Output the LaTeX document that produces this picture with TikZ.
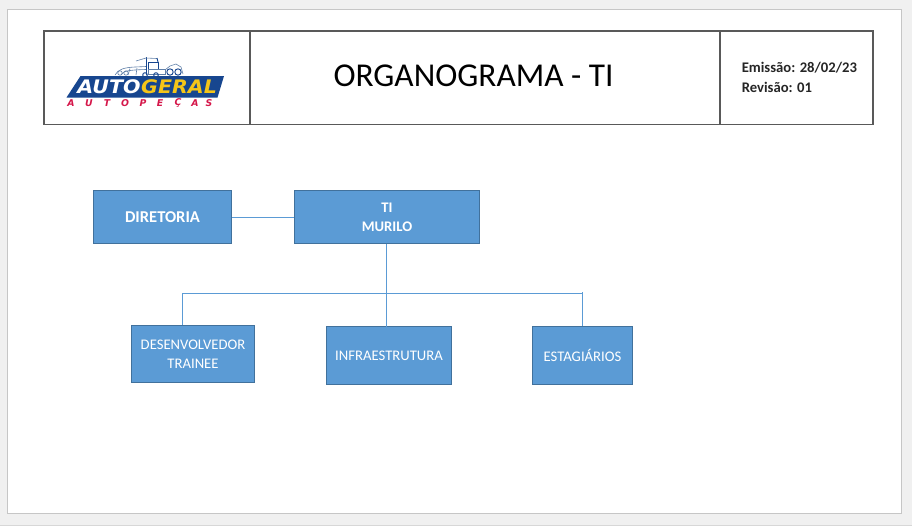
\documentclass[tikz,border=0pt]{standalone}
\usepackage{fontspec}
\setmainfont{Carlito}
\newfontfamily\logofont{DejaVu Sans}
\usetikzlibrary{calc}
\definecolor{slidebg}{HTML}{F0F0F0}
\definecolor{slideedge}{HTML}{C6C6C6}
\definecolor{boxfill}{HTML}{5B9BD5}
\definecolor{boxedge}{HTML}{41719C}
\definecolor{linkc}{HTML}{5B9BD5}
\definecolor{tableedge}{HTML}{595959}
\definecolor{logonavy}{HTML}{17468F}
\definecolor{logoyellow}{HTML}{F5C518}
\definecolor{logored}{HTML}{D5174A}
\definecolor{truck}{HTML}{5F7FA8}
\tikzset{
  x=0.75pt,y=-0.75pt,
  orgbox/.style={draw=boxedge,line width=0.75pt,fill=boxfill,text=white,align=center,inner sep=0pt,font=\fontsize{11pt}{14.5pt}\selectfont},
  link/.style={draw=linkc,line width=0.75pt},
  cell/.style={draw=tableedge,line width=1pt},
  truckline/.style={draw=truck,line width=0.45pt},
  truckdark/.style={draw=logonavy,line width=0.7pt},
  logoword/.style={font=\logofont\bfseries\itshape\fontsize{14pt}{14pt}\selectfont,inner sep=0pt,xscale=1.1},
  logosub/.style={font=\logofont\bfseries\itshape\fontsize{7pt}{8pt}\selectfont,text=logored,inner sep=0pt}
}
\begin{document}
\begin{tikzpicture}
\useasboundingbox (0,0) rectangle (912,526);
\fill[slidebg] (0,0) rectangle (912,526);
\draw[slideedge,line width=0.75pt,fill=white] (7.5,9.5) rectangle (901.5,513);
\draw[slideedge!70,line width=0.5pt] (0,525.5) -- (912,525.5);
% header table
\draw[cell] (44,31) rectangle (873,124.5);
\draw[cell] (250,31) -- (250,124.5);
\draw[cell] (720,31) -- (720,124.5);
\node[font=\fontsize{25pt}{28pt}\selectfont,text=black,inner sep=0pt] (title) at (473.5,75.5) {ORGANOGRAMA - TI};
\node[font=\bfseries\fontsize{11pt}{14.5pt}\selectfont,text=black!85,align=left,anchor=west,inner sep=0pt] (meta) at (741.5,77.5) {Emissão: 28/02/23\\Revisão: 01};
% logo
\fill[logonavy] (80.5,76) -- (224,76) -- (217.5,97.5) -- (66.5,97.5) -- cycle;
\node[logoword,text=white] (logoa) at (109,86.5) {AUTO};
\node[logoword,text=logoyellow] (logob) at (179,86.5) {GERAL};
\foreach \c/\xx in {A/71,U/89,T/107,O/125,P/143,E/160,Ç/178,A/195,S/209}{
  \node[logosub] at (\xx,103) {\c};
}
% truck sketch
\draw[truckline] (115,75) .. controls (118,69) and (125,67.5) .. (135,67) -- (146,66.5);
\draw[truckline] (121,75) .. controls (123,71) and (128,70) .. (146,69.5);
\draw[truckline] (128,75) -- (130,68.5) (136,75) -- (137,68);
\draw[truckdark] (146.5,57) -- (146.5,75);
\draw[truckline] (136,61) -- (146,58) -- (157,58.5);
\draw[truckdark] (148,62) -- (158,62) -- (158,69) -- (148,69) -- cycle;
\draw[truckdark] (157,58) -- (158,62);
\draw[truckline] (148,69) rectangle (165,74);
\draw[truckline] (165,70) -- (170,66) -- (176,64) -- (181,67) -- (183,74);
\draw[truckdark] (145,75) circle (2.3);
\draw[truckdark] (156,75) circle (2.3);
\draw[truckdark] (170,72) circle (3.2);
\draw[truckdark] (178,72) circle (3.2);
\draw[truckline] (120,73) circle (2.2);
\draw[truckline] (126,73) circle (2.2);
% chart
\node[orgbox,minimum width=138pt*0.75,minimum height=53pt*0.75,font=\bfseries\fontsize{12.4pt}{14pt}\selectfont] (dir) at (162.5,217) {DIRETORIA};
\node[orgbox,minimum width=185pt*0.75,minimum height=53pt*0.75,font=\bfseries\fontsize{11pt}{14.5pt}\selectfont] (ti) at (387,217) {TI\\MURILO};
\node[orgbox,minimum width=123pt*0.75,minimum height=57pt*0.75] (dev) at (193,354) {DESENVOLVEDOR\\TRAINEE};
\node[orgbox,minimum width=125pt*0.75,minimum height=58pt*0.75] (infra) at (389,355.5) {INFRAESTRUTURA};
\node[orgbox,minimum width=100pt*0.75,minimum height=58pt*0.75] (est) at (582.5,355.5) {ESTAGIÁRIOS};
\coordinate (busl) at (182.5,293.5);
\coordinate (busr) at (582.5,293.5);
\draw[link] (dir.east) -- (ti.west);
\draw[link] (386.5,243.5) -- (386.5,326.5);
\draw[link] (dev.north -| busl) -- (busl) -- (busr) -- (est.north -| busr);
\draw[link] (582.5,292) -- (busr);
\end{tikzpicture}
\end{document}
